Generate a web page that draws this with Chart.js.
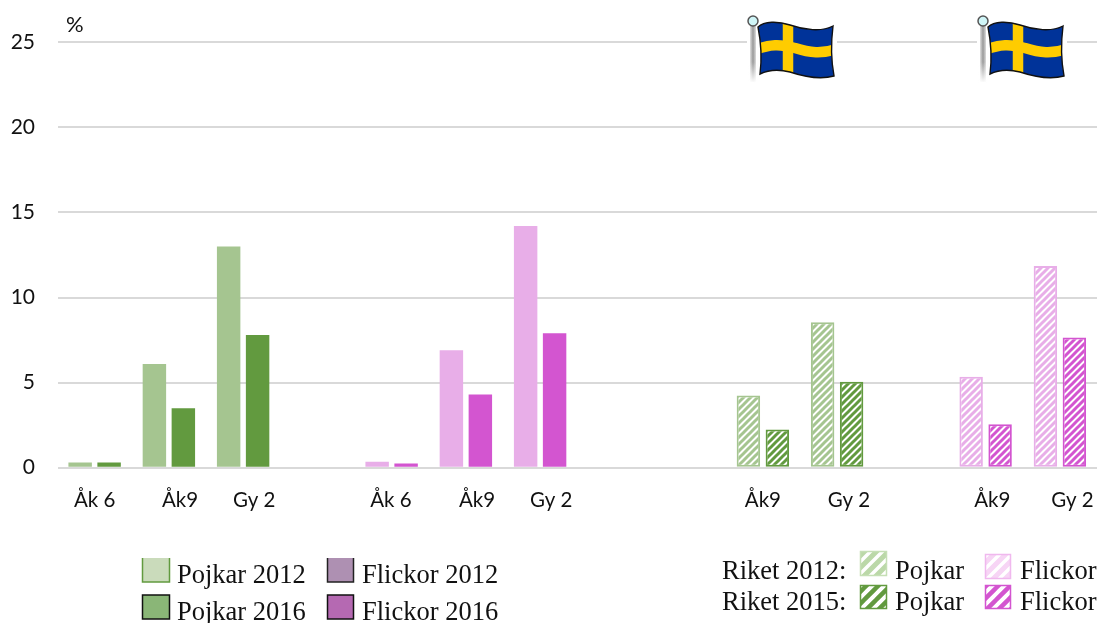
<!DOCTYPE html>
<html><head><meta charset="utf-8">
<style>html,body{margin:0;padding:0;background:#fff}canvas{display:block}</style>
<script src="https://cdn.jsdelivr.net/npm/chart.js@4"></script>
</head><body><canvas id="c" width="1097" height="623"></canvas>
<script>
const categories = ["Åk 6","Åk9","Gy 2","","Åk 6","Åk9","Gy 2","","","Åk9","Gy 2","","Åk9","Gy 2"];
const firstSeries  = [0.3,6.1,13,null,0.35,6.9,14.2,null,null,4.25,8.55,null,5.35,11.85];
const secondSeries = [0.3,3.5,7.8,null,0.25,4.3,7.9,null,null,2.25,5.05,null,2.55,7.65];
const tickLabels = ["Åk 6","Åk9","Gy 2","Åk 6","Åk9","Gy 2","Åk9","Gy 2","Åk9","Gy 2"];
const tickPlaces = [0,1.15,2.15,3.99,5.15,6.15,9.0,10.16,12.09,13.17];
const yTicks = [0,5,10,15,20,25];

const GREEN_L='#A5C590',GREEN_D='#629A3F',PINK_L='#E8AEE8',PINK_D='#D355D0';
function hatch(color,size=7,lw=3){
  const t=document.createElement('canvas');t.width=t.height=size;
  const g=t.getContext('2d');g.fillStyle='#fff';g.fillRect(0,0,size,size);
  g.strokeStyle=color;g.lineWidth=lw;g.lineCap='square';
  g.beginPath();
  for(const o of [-size,0,size]){g.moveTo(o,size);g.lineTo(o+size,0);}
  g.stroke();
  return g.createPattern(t,'repeat');
}
const ctx=document.getElementById('c').getContext('2d');
const fill1=[GREEN_L,GREEN_L,GREEN_L,null,PINK_L,PINK_L,PINK_L,null,null,hatch(GREEN_L),hatch(GREEN_L),null,hatch(PINK_L),hatch(PINK_L)];
const fill2=[GREEN_D,GREEN_D,GREEN_D,null,PINK_D,PINK_D,PINK_D,null,null,hatch(GREEN_D),hatch(GREEN_D),null,hatch(PINK_D),hatch(PINK_D)];
const edge1=[GREEN_L,GREEN_L,GREEN_L,null,PINK_L,PINK_L,PINK_L,null,null,GREEN_L,GREEN_L,null,PINK_L,PINK_L];
const edge2=[GREEN_D,GREEN_D,GREEN_D,null,PINK_D,PINK_D,PINK_D,null,null,GREEN_D,GREEN_D,null,PINK_D,PINK_D];

function drawFlag(g,dx){
  g.save();g.translate(dx,0);
  g.fillStyle='#fff';g.fillRect(747,38,90,8);
  const grad=g.createLinearGradient(749,0,757,0);
  grad.addColorStop(0,'#f7f7f7');grad.addColorStop(.5,'#999');grad.addColorStop(1,'#f2f2f2');
  g.fillStyle=grad;g.fillRect(750,25,6,57);
  const fade=g.createLinearGradient(0,62,0,83);
  fade.addColorStop(0,'rgba(255,255,255,0)');fade.addColorStop(1,'#fff');
  g.fillStyle=fade;g.fillRect(748,62,10,21);
  g.beginPath();g.arc(753,21,5,0,7);g.fillStyle='#CFF5F7';g.fill();g.lineWidth=1.5;g.strokeStyle='#555';g.stroke();
  const p=new Path2D();
  p.moveTo(758,27);p.bezierCurveTo(764,21,778,21,790,25);
  p.bezierCurveTo(804,30,822,32,833,26);
  p.bezierCurveTo(831,42,831,60,834,76);
  p.bezierCurveTo(820,80,805,77,790,72);
  p.bezierCurveTo(778,69,768,70,760,74);
  p.bezierCurveTo(762,58,761,42,758,27);p.closePath();
  g.fillStyle='#003399';g.fill(p);
  g.save();g.clip(p);
  g.strokeStyle='#FFCC00';g.lineWidth=10.5;
  g.beginPath();g.moveTo(788,15);g.lineTo(788,85);g.stroke();
  g.beginPath();g.moveTo(755,50);g.bezierCurveTo(770,44,780,44,795,48);g.bezierCurveTo(810,53,822,54,836,49);g.stroke();
  g.restore();
  g.strokeStyle='#111';g.lineWidth=1.4;g.stroke(p);
  g.restore();
}
function swatch(g,x,y,w,h,fill,stroke,lw=1.5,noTop=false){
  g.fillStyle=fill;g.fillRect(x,y,w,h);
  g.strokeStyle=stroke;g.lineWidth=lw;
  g.beginPath();
  if(noTop){g.moveTo(x,y);g.lineTo(x,y+h);g.lineTo(x+w,y+h);g.lineTo(x+w,y);}
  else g.rect(x,y,w,h);
  g.stroke();
}
const overlay={id:'overlay',afterDraw(chart){
  const g=chart.ctx;g.save();
  drawFlag(g,0);drawFlag(g,230);
  g.fillStyle='#111';g.font='22px Lato';g.textBaseline='alphabetic';g.textAlign='left';
  g.fillText('%',66,32);
  swatch(g,142.5,558,27,24,'#CADBBB',GREEN_D,1.5,true);
  swatch(g,327.5,558,26,24,'#AE90B2','#222',1.5,true);
  swatch(g,142.5,595,27,24,'#8AB677','#111',1.5);
  swatch(g,327.5,595,26,24,'#B569B2','#111',1.5);
  swatch(g,860.5,551.5,26,24,hatch('#BBD8A8',12,5),'#C5DFB5',1.5);
  swatch(g,985.5,554.5,25,24,hatch('#F7D5F5',12,5),'#F0B8EE',1.5);
  swatch(g,860.5,585.5,26,23,hatch(GREEN_D,12,4.5),GREEN_D,1.5);
  swatch(g,985.5,585.5,25,23,hatch(PINK_D,12,4.5),PINK_D,1.5);
  g.fillStyle='#111';g.font='26.5px "Liberation Serif"';
  [['Pojkar 2012',177,583],['Flickor 2012',362,583],['Pojkar 2016',177,620],['Flickor 2016',362,620],
   ['Riket 2012:',722,579],['Pojkar',895,579],['Flickor',1020,579],
   ['Riket 2015:',722,610],['Pojkar',895,610],['Flickor',1020,610]].forEach(t=>g.fillText(t[0],t[1],t[2]));
  g.restore();
}};
new Chart(ctx,{
  type:'bar',
  data:{labels:categories,datasets:[
    {label:'2012',data:firstSeries,backgroundColor:fill1,borderColor:edge1,borderWidth:ctx=>ctx.dataIndex>=9?2:0,borderSkipped:false,categoryPercentage:.78,barPercentage:.81},
    {label:'2016',data:secondSeries,backgroundColor:fill2,borderColor:edge2,borderWidth:ctx=>ctx.dataIndex>=9?2:0,borderSkipped:false,categoryPercentage:.78,barPercentage:.81}
  ]},
  options:{
    responsive:false,animation:false,
    layout:{padding:{top:42.3,left:0,right:0,bottom:0}},
    plugins:{legend:{display:false},tooltip:{enabled:false},title:{display:false}},
    scales:{
      x:{type:'category',display:false,offset:true},
      xLabels:{type:'linear',position:'bottom',bounds:'data',offset:false,min:-0.5,max:13.5,
        afterBuildTicks(a){a.ticks=tickPlaces.map(v=>({value:v}));},
        afterFit(a){a.height=155.3;a.paddingLeft=0;a.paddingRight=0;},
        grid:{display:false,drawTicks:false,offset:false},border:{display:false},
        ticks:{autoSkip:false,maxRotation:0,minRotation:0,padding:20,color:'#111',font:{family:'Lato',size:20.5},
          callback:(v,i)=>tickLabels[i]}},
      y:{min:0,max:25,
        afterBuildTicks(a){a.ticks=yTicks.map(v=>({value:v}));},
        afterFit(a){a.width=57.5;},
        border:{display:false},
        grid:{color:'#D9D9D9',lineWidth:2,drawTicks:false},
        ticks:{padding:22.5,color:'#111',font:{family:'Lato',size:21}}}
    }
  },
  plugins:[overlay]
});
</script></body></html>
